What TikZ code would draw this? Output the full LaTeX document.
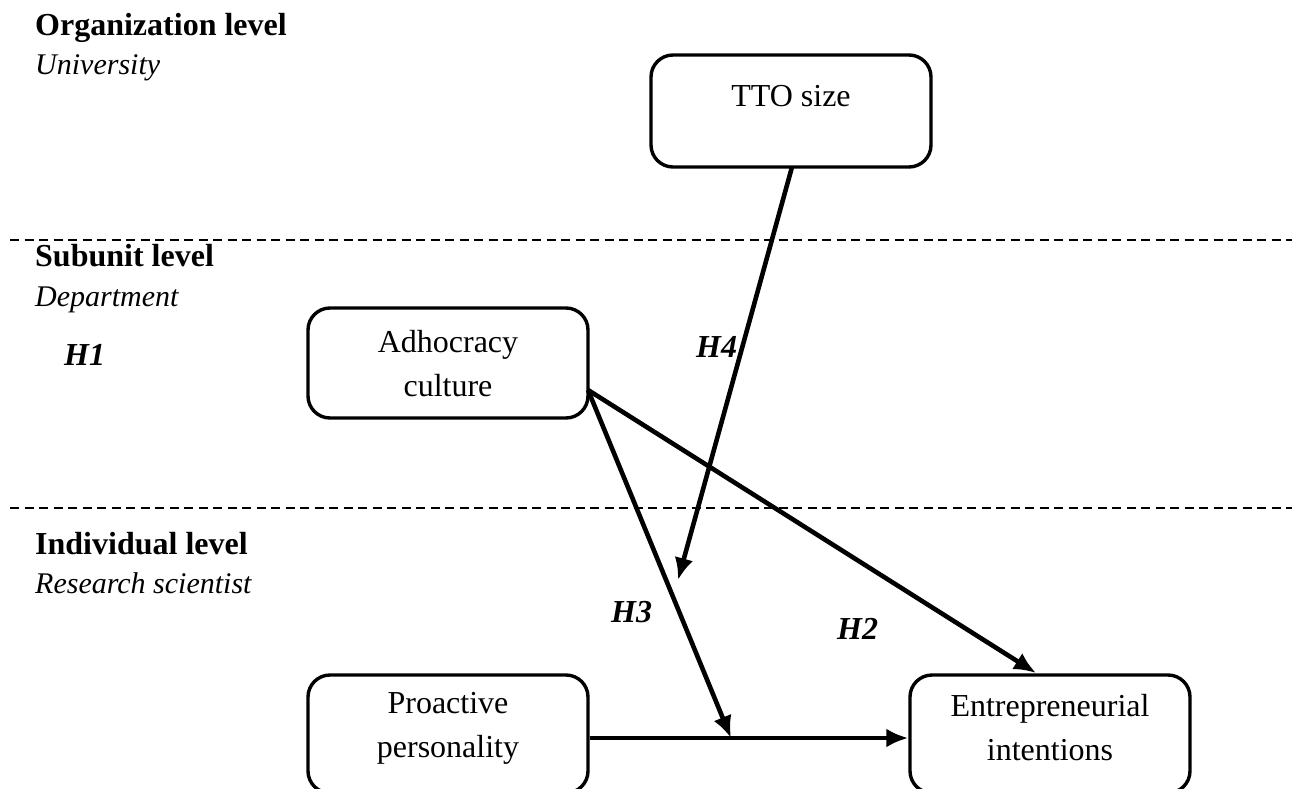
\documentclass[tikz,border=0pt]{standalone}
\usepackage{fontspec}
\setmainfont{Liberation Serif}
\usetikzlibrary{arrows.meta,calc}

\tikzset{
  box/.style={draw, line width=3.4pt, rounded corners=22pt, minimum width=280pt, inner sep=0pt},
  txt/.style={align=center, inner sep=0pt, font=\fontsize{32}{44}\selectfont},
  head/.style={anchor=base west, inner sep=0pt, font=\fontsize{32}{38}\selectfont\bfseries},
  sub/.style={anchor=base west, inner sep=0pt, font=\fontsize{30}{36}\selectfont\itshape},
  hyp/.style={anchor=base west, inner sep=0pt, font=\fontsize{32}{38}\selectfont\bfseries\itshape},
  level/.style={line width=1.5pt, dash pattern=on 9pt off 5.5pt},
  link/.style={line width=4.6pt, -{Latex[length=22pt,width=19pt]}},
}

\begin{document}
\begin{tikzpicture}[x=1pt, y=-1pt]
  \useasboundingbox (0,0) rectangle (1298,789);

  % level separators
  \coordinate (l1a) at (10,240);
  \coordinate (l1b) at (1292,240);
  \coordinate (l2a) at (10,508);
  \coordinate (l2b) at (1292,508);
  \draw[level] (l1a) -- (l1b);
  \draw[level] (l2a) -- (l2b);

  % level captions
  \node[head] (orgh) at (35,36) {Organization level};
  \node[sub]  (orgs) at (35,75) {University};
  \node[head] (subh) at (35,266) {Subunit level};
  \node[sub]  (subs) at (35,306) {Department};
  \node[head] (indh) at (35,554) {Individual level};
  \node[sub]  (inds) at (35,593) {Research scientist};

  % constructs
  \node[box, minimum height=112pt] (tto) at (791,111) {};
  \node[txt] (ttot) at (791,96) {TTO size};

  \node[box, minimum height=110pt] (adh) at (448,363) {};
  \node[txt] (adht) at (448,364) {Adhocracy\\culture};

  \node[box, minimum height=118pt] (pro) at (448,734) {};
  \node[txt] (prot) at (448,728) {Proactive\\personality};

  \node[box, minimum height=118pt] (ent) at (1050,734) {};
  \node[txt] (entt) at (1050,728) {Entrepreneurial\\intentions};

  % connector anchor points
  \coordinate (hub) at (588,390);
  \coordinate (mod) at (731,738);
  \coordinate (h4end) at (678,580);
  \coordinate (ttoout) at (792,167);
  \coordinate (entin) at (1036,673);

  % paths
  \draw[link] (pro.east |- mod) -- (ent.west |- mod);
  \draw[link] (hub) -- (mod);
  \draw[link] (hub) -- (entin);
  \draw[link] (ttoout) -- (h4end);

  % hypothesis labels
  \node[hyp] (h1) at (64,365) {H1};
  \node[hyp] (h4) at (696,357) {H4};
  \node[hyp] (h3) at (611,622) {H3};
  \node[hyp] (h2) at (837,639) {H2};
\end{tikzpicture}
\end{document}
